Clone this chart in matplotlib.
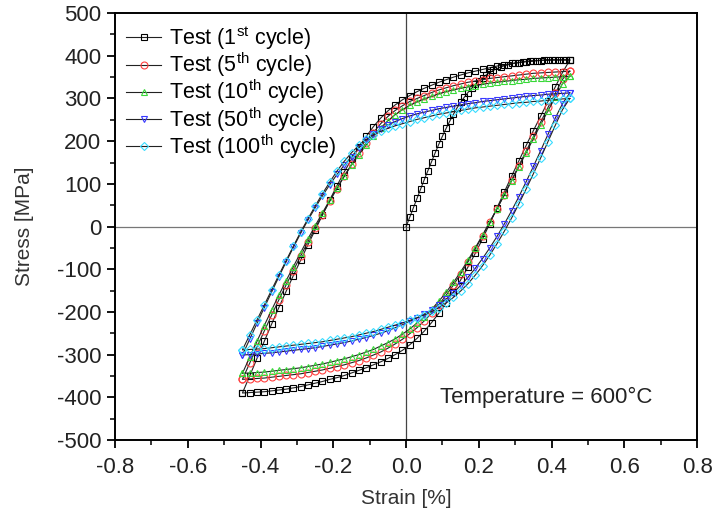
import numpy as np
import matplotlib
matplotlib.use('Agg')
import matplotlib.pyplot as plt
from matplotlib.ticker import MultipleLocator

plt.rcParams['font.family'] = ['Liberation Sans', 'DejaVu Sans']
plt.rcParams['mathtext.fontset'] = 'custom'
plt.rcParams['mathtext.rm'] = 'Liberation Sans'

# strain grid of the cycles [%]
strain = [-0.45, -0.43, -0.41, -0.39, -0.37, -0.35, -0.33, -0.31, -0.29, -0.27,
          -0.25, -0.23, -0.21, -0.19, -0.17, -0.15, -0.13, -0.11, -0.09, -0.07,
          -0.05, -0.03, -0.01, 0.01, 0.03, 0.05, 0.07, 0.09, 0.11, 0.13,
          0.15, 0.17, 0.19, 0.21, 0.23, 0.25, 0.27, 0.29, 0.31, 0.33,
          0.35, 0.37, 0.39, 0.41, 0.43, 0.45]

# first loading from zero
init_strain = [0.00, 0.01, 0.02, 0.03, 0.04, 0.05, 0.06, 0.07, 0.08, 0.09,
               0.10, 0.11, 0.12, 0.13, 0.14, 0.15, 0.16, 0.17, 0.18, 0.19,
               0.20, 0.21, 0.22, 0.23, 0.24, 0.26, 0.28, 0.30, 0.32, 0.34,
               0.36, 0.38, 0.40, 0.42, 0.44, 0.45]
init_stress = [0, 22, 44, 66, 88, 110, 131, 152, 173, 193,
               212, 230, 247, 263, 278, 291, 303, 314, 324, 333,
               341, 348, 355, 361, 366, 374, 379, 383, 386, 388,
               389, 390, 391, 391, 391, 391]

# upper branch (reloading) and lower branch (unloading), stress [MPa]
up_1 = [-390, -350, -309, -269, -229, -190, -152, -115, -79, -43,
        -8, 27, 62, 96, 128, 158, 186, 211, 234, 254,
        271, 285, 297, 307, 316, 324, 331, 338, 344, 350,
        355, 360, 364, 368, 372, 376, 379, 382, 384, 386,
        388, 389, 390, 390, 390, 390]
lo_1 = [-390, -389, -388, -387, -385, -383, -381, -378, -375, -371,
        -367, -363, -358, -354, -349, -343, -337, -331, -324, -317,
        -309, -300, -290, -277, -262, -245, -225, -203, -179, -153,
        -125, -95, -63, -29, 7, 44, 81, 118, 154, 190,
        225, 259, 293, 327, 361, 390]

up_5 = [-358, -320, -282, -245, -208, -172, -137, -103, -69, -36,
        -4, 28, 59, 89, 118, 146, 172, 196, 220, 241,
        258, 272, 283, 293, 300, 307, 314, 320, 325, 330,
        334, 338, 341, 344, 347, 349, 351, 353, 355, 357,
        359, 360, 361, 362, 363, 364]
lo_5 = [-358, -357, -356, -355, -353, -351, -349, -347, -345, -342,
        -339, -336, -332, -328, -324, -319, -314, -308, -301, -294,
        -285, -275, -264, -251, -237, -221, -203, -183, -161, -137,
        -111, -83, -53, -22, 10, 42, 75, 109, 143, 177,
        211, 245, 279, 312, 345, 364]

up_10 = [-344, -306, -269, -232, -196, -161, -127, -94, -61, -29,
         2, 32, 62, 91, 118, 144, 168, 191, 212, 231,
         248, 262, 274, 284, 292, 299, 305, 311, 316, 320,
         324, 327, 330, 333, 336, 338, 340, 342, 344, 345,
         347, 348, 349, 350, 351, 352]
lo_10 = [-344, -343, -342, -341, -339, -337, -335, -333, -331, -328,
         -325, -322, -318, -314, -310, -305, -300, -294, -288, -280,
         -272, -263, -252, -240, -226, -211, -194, -175, -154, -131,
         -106, -79, -50, -20, 11, 42, 74, 107, 140, 173,
         206, 239, 271, 303, 335, 352]

up_50 = [-301, -264, -227, -190, -154, -118, -83, -49, -16, 15,
         44, 72, 98, 122, 144, 164, 184, 202, 216, 228,
         238, 246, 253, 259, 264, 268, 272, 276, 279, 282,
         285, 288, 290, 293, 295, 297, 299, 301, 303, 305,
         307, 308, 310, 311, 312, 313]
lo_50 = [-301, -300, -299, -297, -296, -294, -292, -290, -288, -286,
         -284, -281, -278, -275, -272, -268, -264, -260, -255, -250,
         -244, -237, -230, -222, -214, -205, -195, -183, -170, -155,
         -138, -119, -98, -75, -50, -23, 6, 37, 70, 105,
         141, 178, 216, 254, 288, 313]

up_100 = [-289, -254, -219, -184, -149, -114, -80, -46, -13, 18,
          48, 77, 104, 130, 153, 173, 190, 204, 214, 223,
          230, 236, 241, 246, 251, 255, 259, 263, 266, 269,
          272, 275, 278, 280, 282, 284, 286, 288, 290, 291,
          293, 294, 296, 297, 299, 300]
lo_100 = [-289, -288, -287, -286, -284, -282, -280, -278, -276, -274,
          -272, -270, -267, -264, -261, -258, -254, -250, -246, -241,
          -236, -231, -226, -220, -214, -207, -199, -190, -179, -166,
          -151, -134, -114, -92, -67, -40, -11, 20, 53, 88,
          124, 161, 199, 237, 274, 300]

labels = ['Test (1$^{\\mathrm{st}}$ cycle)', 'Test (5$^{\\mathrm{th}}$ cycle)',
          'Test (10$^{\\mathrm{th}}$ cycle)', 'Test (50$^{\\mathrm{th}}$ cycle)',
          'Test (100$^{\\mathrm{th}}$ cycle)']
markers = ['s', 'o', '^', 'v', 'D']
colors = ['#000000', '#ff4040', '#38d838', '#3838ff', '#38dcff']
uppers = [up_1, up_5, up_10, up_50, up_100]
lowers = [lo_1, lo_5, lo_10, lo_50, lo_100]

fig = plt.figure(figsize=(7.15, 5.25), dpi=100)
ax = fig.add_axes([0.161, 0.162, 0.814, 0.813])

ax.axhline(0, color='#777777', lw=0.9, zorder=1)
ax.axvline(0, color='#444444', lw=0.9, zorder=1)

for i in range(5):
    x = list(strain[::-1]) + list(strain)
    y = list(lowers[i][::-1]) + list(uppers[i])
    if i == 0:
        x = init_strain + x
        y = init_stress + y
    ms = 5.0 if markers[i] != 'D' else 4.3
    ax.plot(x, y, color='#222222', lw=0.8, marker=markers[i], ms=ms,
            mfc='none', mec=colors[i], mew=0.8, label=labels[i], zorder=2 + i)

ax.set_xlim(-0.8, 0.8)
ax.set_ylim(-500, 500)
ax.xaxis.set_minor_locator(MultipleLocator(0.1))
ax.yaxis.set_minor_locator(MultipleLocator(50))
ax.set_xticks(np.round(np.arange(-0.8, 0.81, 0.2), 1))
ax.set_xticklabels(['-0.8', '-0.6', '-0.4', '-0.2', '0.0', '0.2', '0.4', '0.6', '0.8'])
ax.set_yticks(np.arange(-500, 501, 100))
ax.set_yticklabels([str(v) for v in range(-500, 501, 100)])
ax.tick_params(which='major', direction='out', length=6, width=1.3, labelsize=16,
               labelcolor='#222222')
ax.tick_params(axis='x', which='major', pad=6)
ax.tick_params(axis='y', which='major', pad=4)
ax.tick_params(which='minor', direction='out', length=3.5, width=1.1)
for s in ax.spines.values():
    s.set_linewidth(1.4)

ax.set_xlabel('Strain [%]', fontsize=15, color='#333333', labelpad=8)
ax.set_ylabel('Stress [MPa]', fontsize=15, color='#333333', labelpad=16)

ax.text(0.385, -400, 'Temperature = 600\u00b0C', fontsize=16, color='#222222',
        ha='center', va='center')

ax.legend(loc='upper left', frameon=False, fontsize=15.5, handlelength=1.65,
          labelspacing=-0.06, borderaxespad=0.2, handletextpad=0.35,
          borderpad=0.3)

fig.savefig('out.png', dpi=100)
